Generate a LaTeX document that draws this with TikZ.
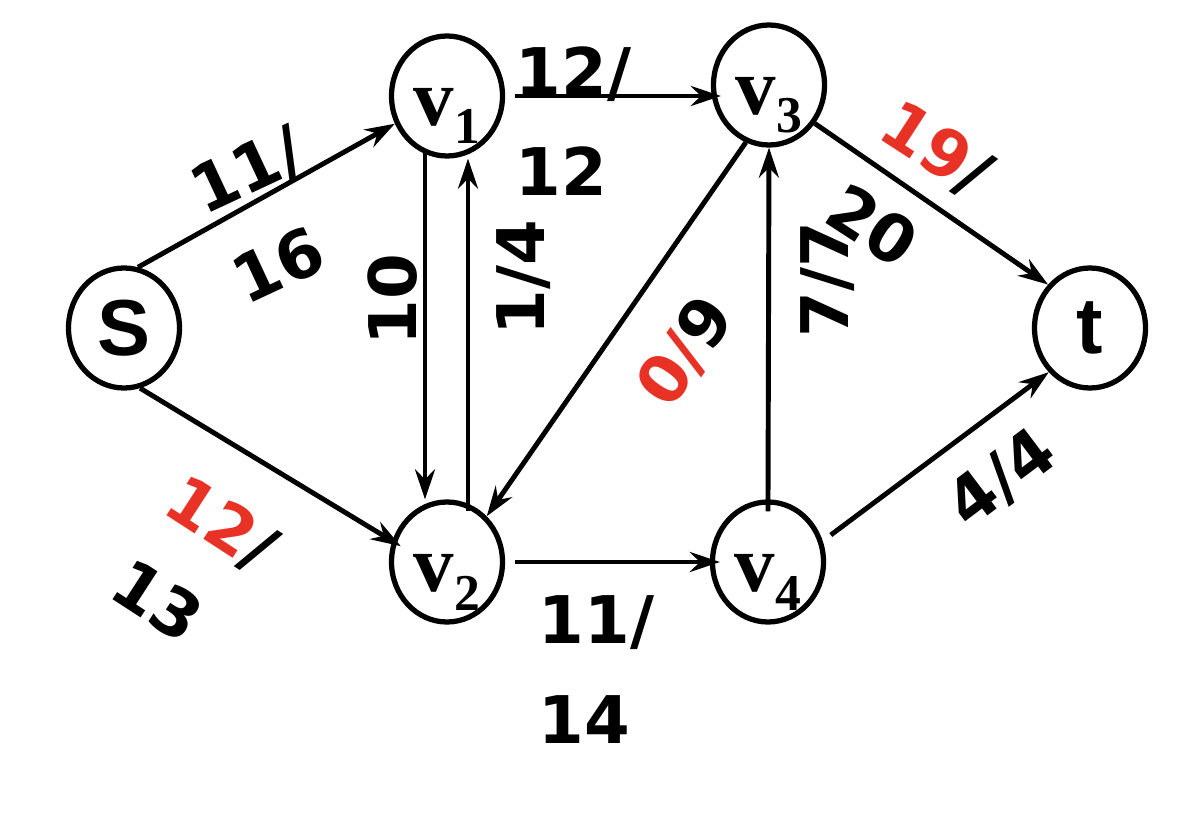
\documentclass[tikz,border=0pt]{standalone}
\usepackage{fontspec}
\setmainfont{Liberation Sans}
\newfontfamily\vserif{Liberation Serif}
\newfontfamily\flowfont{DejaVu Sans}
\usetikzlibrary{arrows.meta,shapes.geometric}
\definecolor{flowred}{RGB}{232,50,38}
\newcommand{\vtx}[1]{\raisebox{-3mm}[0pt][0pt]{{\vserif\bfseries\fontsize{23}{23}\selectfont v}\raisebox{-1.8mm}{\vserif\fontsize{14.7}{15}\selectfont #1}}}
\begin{document}
\begin{tikzpicture}[vert/.style={ellipse, draw, line width=1.5pt, minimum width=1.11cm, minimum height=1.2cm, inner sep=0pt, font=\bfseries\fontsize{22.6}{24}\selectfont},
    flow/.style={font=\flowfont\bfseries\fontsize{18.7}{28.45}\selectfont, inner sep=0pt, align=left},
    edge/.style={->, line width=1.4pt}, >={Stealth[length=3mm, width=2mm, inset=1mm]}]
        \useasboundingbox (0,0) rectangle (11.78,8.28);
        \node[vert] (S) at (1.24, 5.00) {S};
        \node[vert] (v1) at (4.47, 7.32) {\vtx{1}};
        \node[vert] (v3) at (7.69, 7.43) {\vtx{3}};
        \node[vert] (t) at (10.90, 5.00) {t};
        \node[vert] (v2) at (4.47, 2.66) {\vtx{2}};
        \node[vert] (v4) at (7.68, 2.66) {\vtx{4}};
        \draw[edge] (S.77) -- (v1.208);
        \draw[edge, shorten >=-1mm] (S.285) -- (v2.159);
        \draw[edge, shorten <=-1mm] ([xshift=-2.2mm]v1.south) -- ([xshift=-2.2mm]v2.north);
        \draw[edge, shorten <=-1.2mm] ([xshift=2.1mm]v2.north) -- ([xshift=2.1mm]v1.south);
        \draw[edge, shorten <=1mm, shorten >=-1mm] (v1.east) -- (v1.east -| v3.west);
        \draw[edge, shorten <=1mm, shorten >=-1mm] (v2.east) -- (v2.east -| v4.west);
        \draw[edge] (v3.248) -- (v2.49);
        \draw[edge, shorten <=-1.2mm] (v4.north) -- (v3.south);
        \draw[edge] (v3.320) -- (t.134);
        \draw[edge, shorten <=1mm] (v4.21) -- (t.227);
        \node[flow, rotate=25] (fS1) at (2.68, 6.13) {11/\\16};
        \node[flow, rotate=-33] (fS2) at (1.95, 2.63) {\textcolor{flowred}{12}/\\13};
        \node[flow, anchor=west] (f13) at (5.15, 7.07) {12/\\12};
        \node[flow, rotate=90] (f12) at (3.93, 5.28) {10};
        \node[flow, rotate=90] (f21) at (5.24, 5.50) {1/4};
        \node[flow, rotate=55] (f32) at (6.86, 4.76) {\textcolor{flowred}{0/}9};
        \node[flow, anchor=west] (f24) at (5.38, 1.58) {11/\\14};
        \node[flow, rotate=90] (f43) at (8.28, 5.48) {7/7};
        \node[flow, rotate=-33] (f3t) at (9.10, 6.38) {\textcolor{flowred}{19}/\\20};
        \node[flow, rotate=37] (f4t) at (10.02, 3.49) {4/4};
    \end{tikzpicture}
\end{document}
